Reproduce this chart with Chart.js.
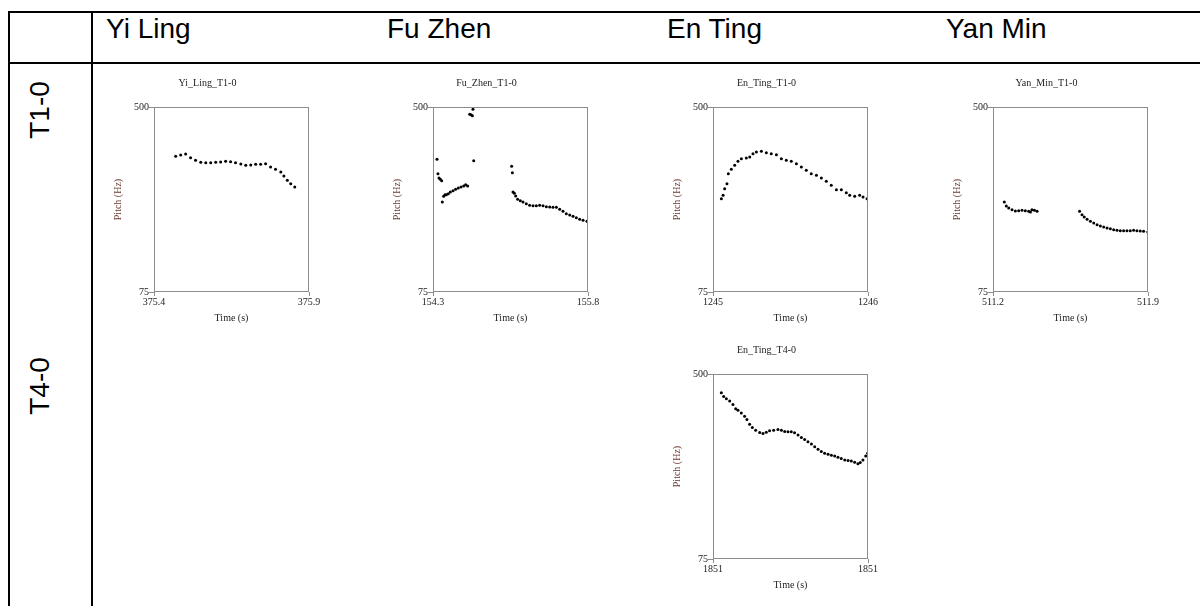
<!DOCTYPE html>
<html>
<head>
    <title>Pitch contours</title>
    <script src="https://cdn.jsdelivr.net/npm/chart.js"></script>
    <style>
        body { margin: 0; background: #fff; width: 1200px; height: 606px; overflow: hidden; position: relative; }
        .line { position: absolute; background: #000; }
        .head { position: absolute; top: 15px; font: 28px "Liberation Sans", Arial, sans-serif; line-height: 28px; color: #000; white-space: nowrap; }
        .rowlab { position: absolute; width: 0; height: 0; }
        .rowlab span { position: absolute; left: 0; top: 0; transform: translate(-50%, -50%) rotate(-90deg);
            font: 28px "Liberation Sans", Arial, sans-serif; line-height: 28px; white-space: nowrap; }
        canvas { position: absolute; }
    </style>
</head>
<body>
    <!-- table lines -->
    <div class="line" style="left:8px; top:11px; width:1192px; height:2px;"></div>
    <div class="line" style="left:8px; top:62px; width:1192px; height:2px;"></div>
    <div class="line" style="left:8px; top:11px; width:2px; height:595px;"></div>
    <div class="line" style="left:91px; top:11px; width:2px; height:595px;"></div>

    <div class="head" style="left:106px;">Yi Ling</div>
    <div class="head" style="left:387px;">Fu Zhen</div>
    <div class="head" style="left:667px;">En Ting</div>
    <div class="head" style="left:946px;">Yan Min</div>
    <div class="rowlab" style="left:40px; top:110px;"><span>T1-0</span></div>
    <div class="rowlab" style="left:40px; top:386px;"><span>T4-0</span></div>

    <canvas id="yiLingT1" width="219" height="256" style="left:106px; top:70px;"></canvas>
    <canvas id="fuZhenT1" width="219" height="256" style="left:385px; top:70px;"></canvas>
    <canvas id="enTingT1" width="219" height="256" style="left:665px; top:70px;"></canvas>
    <canvas id="yanMinT1" width="219" height="256" style="left:945px; top:70px;"></canvas>
    <canvas id="enTingT4" width="219" height="256" style="left:665px; top:337px;"></canvas>

    <script>
        // pitch axis, same for every plot
        const pitchRange = [75, 500];
        const pitchTicks = ['75', '500'];

        // Yi Ling T1-0
        const yiLingRange = [375.4, 375.9];
        const yiLingTicks = ['375.4', '375.9'];
        const yiLingTime = [375.470, 375.486, 375.502, 375.518, 375.534, 375.551, 375.567, 375.583, 375.599, 375.615,
            375.631, 375.647, 375.663, 375.680, 375.696, 375.712, 375.728, 375.744, 375.760, 375.776,
            375.792, 375.809, 375.819, 375.830, 375.841, 375.854];
        const yiLingPitch = [386.7, 389.7, 392.0, 383.6, 377.5, 372.9, 372.1, 372.1, 372.9, 373.6,
            375.2, 374.4, 372.1, 369.0, 366.0, 366.8, 368.3, 368.3, 369.8, 362.2,
            356.8, 350.7, 341.5, 331.5, 323.9, 316.2];

        // Fu Zhen T1-0
        const fuZhenRange = [154.3, 155.8];
        const fuZhenTicks = ['154.3', '155.8'];
        const fuZhenTime = [154.339, 154.348, 154.358, 154.371, 154.384, 154.390, 154.403, 154.416, 154.429, 154.448,
            154.468, 154.494, 154.519, 154.545, 154.571, 154.597, 154.616, 154.635,
            154.655, 154.668, 154.681, 154.687, 154.694,
            155.061, 155.068, 155.074, 155.087, 155.100, 155.119, 155.145, 155.171, 155.203, 155.235,
            155.268, 155.300, 155.332, 155.365, 155.397, 155.429, 155.461, 155.494, 155.526, 155.558,
            155.590, 155.623, 155.655, 155.687, 155.719, 155.752, 155.790];
        const fuZhenPitch = [379.8, 346.8, 336.9, 333.8, 330.8, 281.7, 294.8, 298.6, 298.6, 300.9,
            304.7, 307.8, 310.8, 313.9, 316.2, 318.5, 321.6, 318.5,
            483.2, 482.4, 480.1, 494.6, 376.7,
            363.7, 349.1, 304.7, 301.7, 295.5, 287.9, 284.8, 281.7, 277.9, 274.1,
            273.3, 273.3, 274.1, 273.3, 271.0, 270.3, 269.5, 269.5, 264.9, 260.3,
            254.9, 251.9, 248.8, 245.8, 241.9, 239.6, 237.3];

        // En Ting T1-0
        const enTingT1Range = [1245, 1246];
        const enTingT1Ticks = ['1245', '1246'];
        const enTingT1Time = [1245.054, 1245.065, 1245.075, 1245.090, 1245.099, 1245.118, 1245.140, 1245.161, 1245.183, 1245.215,
            1245.237, 1245.258, 1245.280, 1245.312, 1245.344, 1245.376, 1245.409, 1245.441, 1245.473, 1245.505,
            1245.538, 1245.570, 1245.602, 1245.634, 1245.667, 1245.699, 1245.731, 1245.763, 1245.796, 1245.828,
            1245.860, 1245.882, 1245.914, 1245.946, 1245.968, 1245.994];
        const enTingT1Pitch = [289.4, 297.1, 312.4, 323.9, 346.8, 356.8, 366.0, 375.2, 381.3, 382.8,
            385.1, 392.8, 396.6, 398.1, 395.1, 392.8, 390.5, 381.3, 377.5, 375.2,
            369.8, 362.2, 354.5, 346.8, 343.0, 336.9, 329.2, 320.0, 310.1, 310.1,
            303.2, 297.1, 294.8, 297.1, 293.2, 289.4];

        // Yan Min T1-0
        const yanMinRange = [511.2, 511.9];
        const yanMinTicks = ['511.2', '511.9'];
        const yanMinTime = [511.251, 511.260, 511.271, 511.286, 511.301, 511.316, 511.331, 511.346, 511.361, 511.369,
            511.376, 511.387, 511.399,
            511.591, 511.602, 511.612, 511.625, 511.640, 511.655, 511.670, 511.685, 511.700, 511.715,
            511.730, 511.745, 511.760, 511.775, 511.790, 511.805, 511.820, 511.835, 511.850, 511.865,
            511.880, 511.899];
        const yanMinPitch = [281.7, 272.6, 268.0, 264.1, 261.1, 261.8, 262.6, 261.8, 260.3, 258.8,
            264.1, 262.6, 260.3,
            260.3, 252.6, 247.3, 241.9, 237.3, 233.5, 229.7, 226.6, 224.3, 222.0,
            220.5, 218.2, 216.7, 215.9, 215.9, 215.9, 215.9, 216.7, 215.9, 215.1,
            214.4, 212.8];

        // En Ting T4-0
        const enTingT4Range = [1850.6, 1851.4];
        const enTingT4Ticks = ['1851', '1851'];
        const enTingT4Time = [1850.643, 1850.655, 1850.669, 1850.686, 1850.703, 1850.717, 1850.729, 1850.746, 1850.763, 1850.775,
            1850.789, 1850.803, 1850.820, 1850.841, 1850.858, 1850.875, 1850.892, 1850.913, 1850.935, 1850.953,
            1850.970, 1850.987, 1851.004, 1851.021, 1851.039, 1851.056, 1851.073, 1851.090, 1851.108, 1851.125,
            1851.142, 1851.159, 1851.176, 1851.194, 1851.211, 1851.228, 1851.245, 1851.262, 1851.280, 1851.297,
            1851.314, 1851.331, 1851.348, 1851.360, 1851.374, 1851.388, 1851.398];
        const enTingT4Pitch = [456.7, 448.4, 443.1, 437.8, 430.2, 420.3, 416.5, 410.4, 402.9, 395.3,
            384.6, 377.1, 371.0, 365.7, 363.4, 366.4, 369.5, 371.0, 372.5, 371.0,
            368.0, 367.2, 367.2, 364.9, 359.6, 354.3, 349.7, 344.4, 339.1, 333.0,
            327.0, 321.7, 317.9, 315.6, 313.3, 311.8, 308.8, 305.7, 302.7, 301.2,
            300.4, 297.4, 293.6, 296.6, 302.7, 311.8, 317.9];

        const serif = '"Liberation Serif", "Times New Roman", serif';
        const frameColor = '#8c8c8c';

        // gray box round the plot area
        const framePlugin = {
            id: 'frame',
            afterDraw(chart) {
                const a = chart.chartArea;
                const c = chart.ctx;
                c.save();
                c.strokeStyle = frameColor;
                c.lineWidth = 1;
                c.strokeRect(Math.round(a.left) + 0.5, Math.round(a.top) + 0.5,
                    Math.round(a.right - a.left) - 1, Math.round(a.bottom - a.top) - 1);
                c.restore();
            }
        };

        function makePlot(id, title, times, pitches, xRange, xTicks) {
            const points = times.map((t, i) => ({ x: t, y: pitches[i] }));
            return new Chart(document.getElementById(id), {
                type: 'scatter',
                data: {
                    datasets: [{
                        data: points,
                        pointRadius: 1.5,
                        pointBackgroundColor: '#000',
                        pointBorderWidth: 0,
                        showLine: false
                    }]
                },
                plugins: [framePlugin],
                options: {
                    responsive: false,
                    animation: false,
                    devicePixelRatio: 1,
                    layout: { padding: { left: 0, right: 16, top: 0, bottom: 0 } },
                    plugins: {
                        legend: { display: false },
                        tooltip: { enabled: false },
                        title: {
                            display: true,
                            text: title,
                            color: '#222',
                            font: { family: serif, size: 10, weight: 'normal', lineHeight: 1.2 },
                            padding: { top: 7, bottom: 18 }
                        }
                    },
                    scales: {
                        x: {
                            type: 'linear',
                            min: xRange[0],
                            max: xRange[1],
                            afterBuildTicks: s => { s.ticks = [{ value: xRange[0] }, { value: xRange[1] }]; },
                            afterFit: s => { s.height = 34; },
                            border: { display: false },
                            grid: { drawOnChartArea: false, drawTicks: true, tickLength: 4, color: frameColor },
                            ticks: {
                                autoSkip: false, maxRotation: 0, padding: 0, color: '#222',
                                font: { family: serif, size: 10 },
                                callback: (v, i) => xTicks[i]
                            },
                            title: {
                                display: true, text: 'Time (s)', color: '#222',
                                font: { family: serif, size: 10 },
                                padding: { top: 0, bottom: 2 }
                            }
                        },
                        y: {
                            type: 'linear',
                            min: pitchRange[0],
                            max: pitchRange[1],
                            afterBuildTicks: s => { s.ticks = [{ value: pitchRange[0] }, { value: pitchRange[1] }]; },
                            afterFit: s => { s.width = 48; },
                            border: { display: false },
                            grid: { drawOnChartArea: false, drawTicks: true, tickLength: 5, color: frameColor },
                            ticks: {
                                autoSkip: false, padding: 0, color: '#222',
                                font: { family: serif, size: 10 },
                                callback: (v, i) => pitchTicks[i]
                            },
                            title: {
                                display: true, text: 'Pitch (Hz)', color: '#6b3a30',
                                font: { family: serif, size: 10 },
                                padding: { top: 6, bottom: 0 }
                            }
                        }
                    }
                }
            });
        }

        makePlot('yiLingT1', 'Yi_Ling_T1-0', yiLingTime, yiLingPitch, yiLingRange, yiLingTicks);
        makePlot('fuZhenT1', 'Fu_Zhen_T1-0', fuZhenTime, fuZhenPitch, fuZhenRange, fuZhenTicks);
        makePlot('enTingT1', 'En_Ting_T1-0', enTingT1Time, enTingT1Pitch, enTingT1Range, enTingT1Ticks);
        makePlot('yanMinT1', 'Yan_Min_T1-0', yanMinTime, yanMinPitch, yanMinRange, yanMinTicks);
        makePlot('enTingT4', 'En_Ting_T4-0', enTingT4Time, enTingT4Pitch, enTingT4Range, enTingT4Ticks);
    </script>
</body>
</html>
